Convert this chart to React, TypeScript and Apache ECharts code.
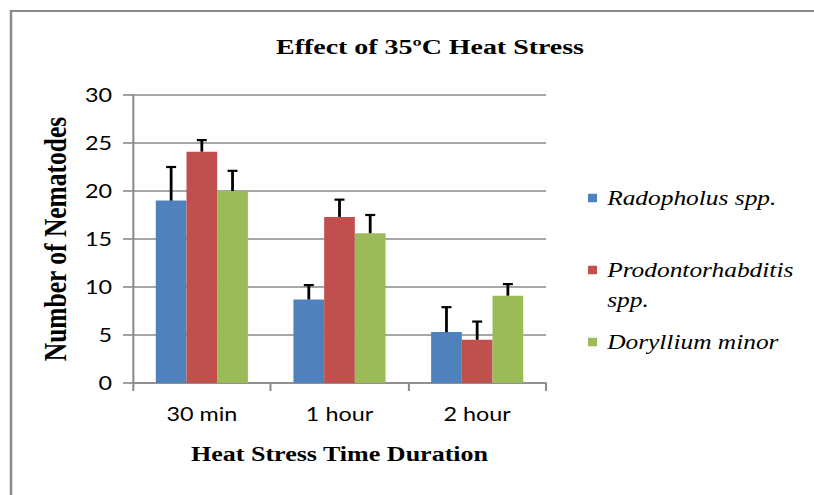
import React, { useEffect, useRef } from "react";
import * as echarts from "echarts";

// ---- data ----
const categories = ["30 min", "1 hour", "2 hour"];
const seriesNames = ["Radopholus spp.", "Prodontorhabditis spp.", "Doryllium minor"];
const radopholus = [19.0, 8.7, 5.3];
const radopholusErr = [3.5, 1.5, 2.6];
const prodontorhabditis = [24.1, 17.3, 4.5];
const prodontorhabditisErr = [1.2, 1.8, 1.9];
const doryllium = [20.0, 15.6, 9.1];
const dorylliumErr = [2.1, 1.9, 1.2];
const yMin = 0;
const yMax = 30;
const yStep = 5;

const colors = ["#4F81BD", "#C0504D", "#9BBB59"];

// chart is drawn narrower and stretched horizontally like the reference picture
const W = 641;
const H = 495;
const S = 814 / W;
const px = (x: number) => x / S;

const BAR_W = px(30.7);
const CAP_W = px(10);

export default function App() {
  const ref = useRef<HTMLDivElement>(null);

  useEffect(() => {
    if (!ref.current) return;
    const chart = echarts.init(ref.current, null, { renderer: "svg" });

    const values = [radopholus, prodontorhabditis, doryllium];
    const errors = [radopholusErr, prodontorhabditisErr, dorylliumErr];

    const barSeries = seriesNames.map((name, i) => ({
      name,
      type: "bar",
      data: values[i],
      barWidth: BAR_W,
      barGap: "0%",
      itemStyle: { color: colors[i] },
      z: 2,
    }));

    const errSeries = seriesNames.map((name, i) => ({
      name: "err-" + i,
      type: "custom",
      z: 3,
      encode: { x: 0, y: 1 },
      data: values[i].map((v, k) => [k, v, errors[i][k]]),
      renderItem: (params: any, api: any) => {
        const c = api.value(0);
        const v = api.value(1);
        const e = api.value(2);
        const p0 = api.coord([c, v]);
        const p1 = api.coord([c, v + e]);
        const x = p0[0] + (i - 1) * BAR_W;
        const st = { stroke: "#000", lineWidth: 2.2 };
        return {
          type: "group",
          children: [
            { type: "line", shape: { x1: x, y1: p0[1], x2: x, y2: p1[1] }, style: st },
            { type: "line", shape: { x1: x - CAP_W / 2, y1: p1[1], x2: x + CAP_W / 2, y2: p1[1] }, style: st },
          ],
        };
      },
    }));

    const legendBase = {
      orient: "vertical",
      left: px(588),
      padding: 0,
      itemWidth: px(9),
      itemHeight: 8.5,
      icon: "rect",
      selectedMode: false,
      textStyle: {
        fontFamily: "Liberation Serif",
        fontStyle: "italic",
        fontSize: 20,
        color: "#000",
        padding: [0, 0, 0, 3],
      },
    };

    const axisColor = "#8a8a8a";

    chart.setOption({
      animation: false,
      title: {
        text: "Effect of 35ºC Heat Stress",
        left: px(430),
        top: 47,
        padding: 0,
        textAlign: "center",
        textVerticalAlign: "middle",
        textStyle: {
          fontFamily: "Liberation Serif",
          fontWeight: "bold",
          fontSize: 22,
          color: "#000",
        },
      },
      legend: [
        { ...legendBase, data: [seriesNames[0]], top: 188 },
        { ...legendBase, data: [seriesNames[1]], top: 260, formatter: () => "Prodontorhabditis" },
        { ...legendBase, data: [seriesNames[2]], top: 332 },
      ],
      graphic: [
        {
          type: "rect",
          shape: { x: px(11), y: 11, width: W + 50, height: H + 50 },
          style: { fill: "none", stroke: "#8a8a8a", lineWidth: 2 },
          silent: true,
        },
        {
          type: "text",
          x: px(588) + px(9) + 8,
          y: 300,
          style: {
            text: "spp.",
            fontFamily: "Liberation Serif",
            fontStyle: "italic",
            fontSize: 20,
            fill: "#000",
            align: "left",
            verticalAlign: "middle",
          },
        },
      ],
      grid: {
        left: px(133),
        top: 95,
        width: px(546 - 133),
        height: 288,
      },
      xAxis: {
        type: "category",
        data: categories,
        name: "Heat Stress Time Duration",
        nameLocation: "middle",
        nameGap: 60,
        nameTextStyle: {
          fontFamily: "Liberation Serif",
          fontWeight: "bold",
          fontSize: 20.5,
          color: "#000",
        },
        axisLine: { show: true, lineStyle: { color: axisColor, width: 1.6 } },
        axisTick: { show: true, length: 8, alignWithLabel: false, lineStyle: { color: axisColor, width: 1.6 } },
        axisLabel: {
          margin: 22,
          fontFamily: "Lato",
          fontSize: 18.4,
          color: "#000",
        },
        splitLine: { show: false },
      },
      yAxis: {
        type: "value",
        min: yMin,
        max: yMax,
        interval: yStep,
        name: "Number of Nematodes",
        nameLocation: "middle",
        nameGap: 47.5,
        nameTextStyle: {
          fontFamily: "Liberation Serif",
          fontWeight: "bold",
          fontSize: 25.5,
          color: "#000",
        },
        axisLine: { show: true, lineStyle: { color: axisColor, width: 1.6 } },
        axisTick: { show: true, length: px(10), lineStyle: { color: axisColor, width: 1.6 } },
        axisLabel: {
          margin: px(21),
          fontFamily: "Lato",
          fontSize: 18.4,
          color: "#000",
        },
        splitLine: { show: true, lineStyle: { color: axisColor, width: 1.6 } },
      },
      series: [...barSeries, ...errSeries],
    });

    return () => chart.dispose();
  }, []);

  return (
    <div
      ref={ref}
      style={{
        position: "absolute",
        left: 0,
        top: 0,
        width: W,
        height: H,
        transform: `scaleX(${S})`,
        transformOrigin: "0 0",
        background: "#fff",
      }}
    />
  );
}
